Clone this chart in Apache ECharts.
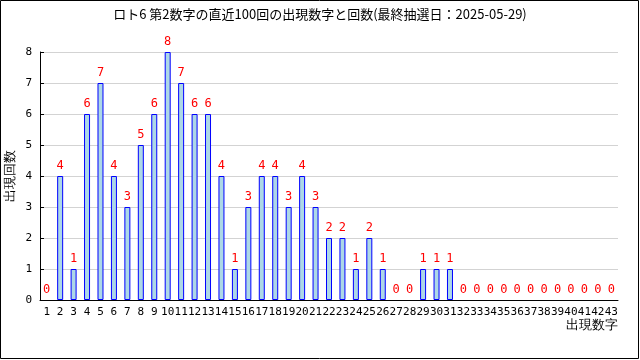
<!DOCTYPE html>
<html><head><meta charset="utf-8">
<script src="https://cdn.jsdelivr.net/npm/echarts@6/dist/echarts.min.js"></script>
<style>html,body{margin:0;padding:0;background:#fff}#c{width:640px;height:360px}</style>
</head><body><div id="c"></div>
<script>
const categories = Array.from({length:43},(_,i)=>String(i+1));
const counts = [0,4,1,6,7,4,3,5,6,8,7,6,6,4,1,3,4,4,3,4,3,2,2,1,2,1,0,0,1,1,1,0,0,0,0,0,0,0,0,0,0,0,0];
const yTicks = [0,1,2,3,4,5,6,7,8];
const titleText = 'ロト6 第2数字の直近100回の出現数字と回数(最終抽選日：2025-05-29)';
const xName = '出現数字';
const yName = '出現回数';
const font = '"DejaVu Sans Mono","Noto Sans CJK JP",monospace';
const cjk = '"Noto Sans CJK JP",sans-serif';
const barData = counts.map(v => v === 0 ? {value:v, itemStyle:{borderWidth:0, color:'rgba(0,0,0,0)'}} : v);
const chart = echarts.init(document.getElementById('c'));
chart.setOption({
  animation:false,
  backgroundColor:'#fff',
  title:{text:titleText,left:'center',top:3,textStyle:{fontSize:13,fontWeight:'normal',color:'#000',fontFamily:cjk}},
  graphic:[
    {type:'rect',shape:{x:0.5,y:0.5,width:638,height:358},style:{fill:'none',stroke:'#000',lineWidth:1},silent:true},
    {type:'text',x:618,y:325,style:{text:xName,fontSize:13,fill:'#000',font:'13px '+cjk,textAlign:'right',textVerticalAlign:'middle'},silent:true},
    {type:'text',x:10,y:176,rotation:Math.PI/2,style:{text:yName,fontSize:13,fill:'#000',font:'13px '+cjk,textAlign:'center',textVerticalAlign:'middle'},silent:true}
  ],
  grid:{left:40,right:22,top:52,bottom:60,outerBoundsMode:'none',containLabel:false},
  xAxis:{type:'category',data:categories,
    axisLine:{lineStyle:{color:'#000',width:1}},
    axisTick:{inside:true,length:4,lineStyle:{color:'#000'}},
    axisLabel:{interval:0,fontSize:11,color:'#000',fontFamily:font,margin:7}},
  yAxis:{type:'value',min:0,max:8,interval:1,
    axisLine:{show:true,lineStyle:{color:'#000'}},
    axisTick:{show:true,inside:true,length:4,lineStyle:{color:'#000'}},
    axisLabel:{fontSize:11,color:'#000',fontFamily:font,margin:8,formatter:v=>yTicks.includes(v)?String(v):''},
    splitLine:{lineStyle:{color:'#d3d3d3'}}},
  series:[{type:'bar',data:barData,barWidth:6,
    itemStyle:{color:'#add8e6',borderColor:'#0000ff',borderWidth:1},
    label:{show:true,position:'top',distance:4,color:'#ff0000',fontSize:12,fontFamily:font}}]
});
</script></body></html>
